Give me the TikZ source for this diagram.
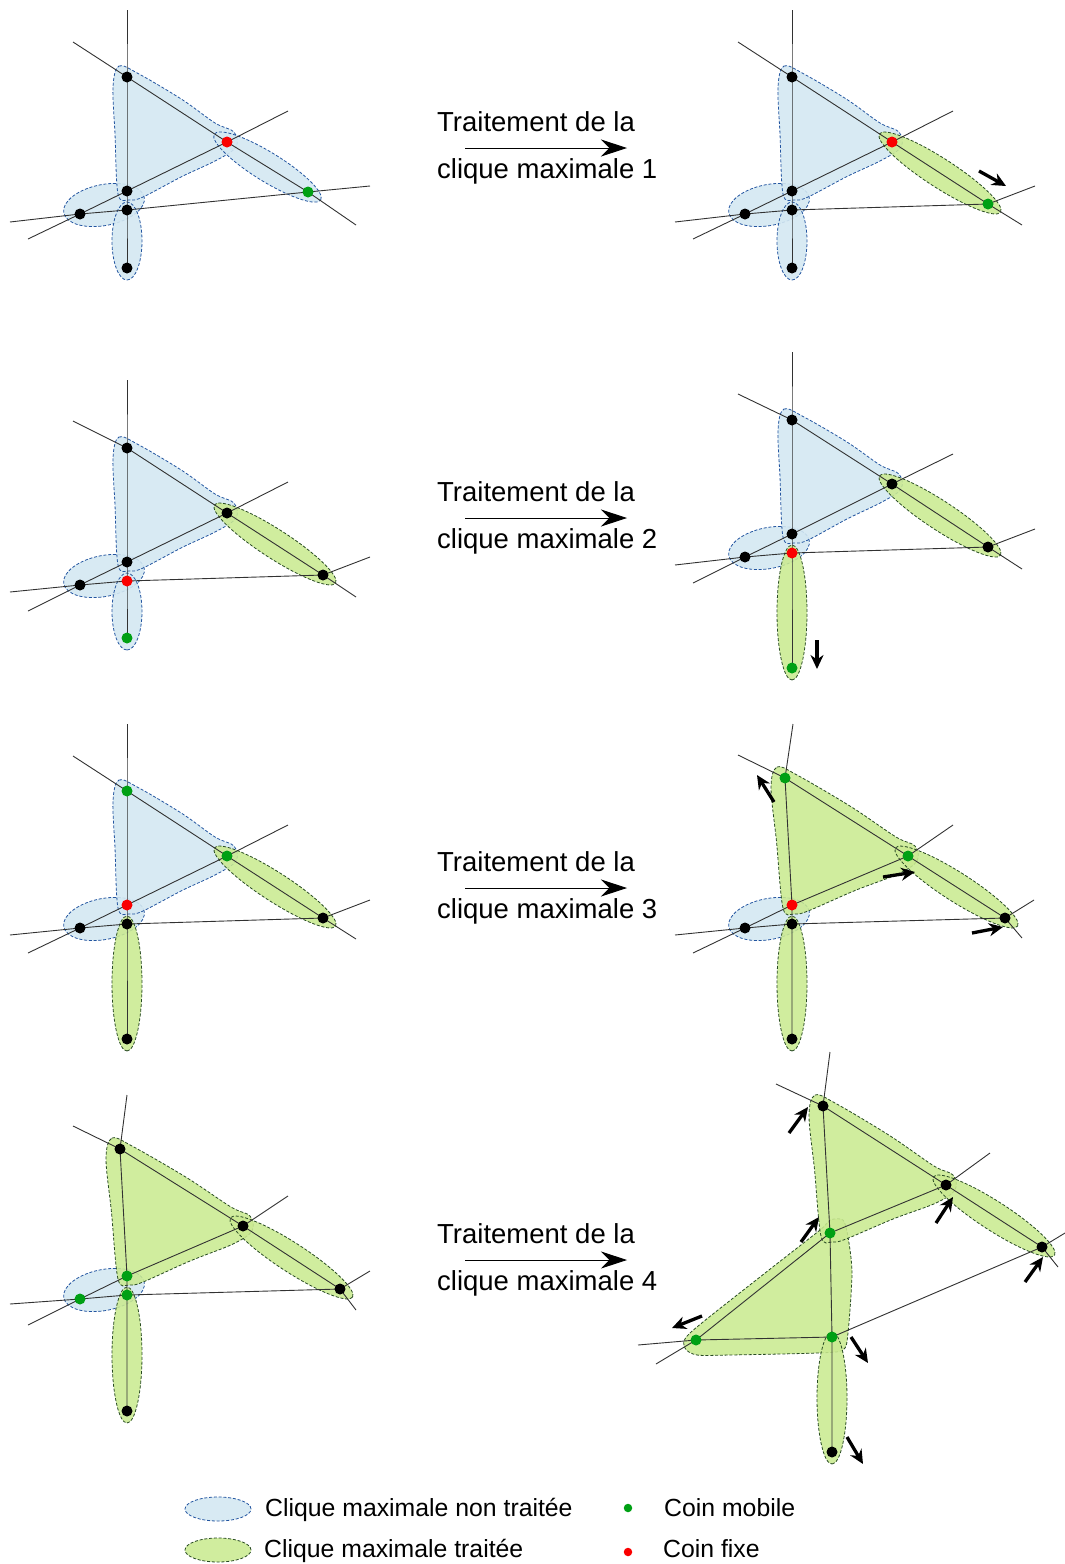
\documentclass[tikz,border=0pt]{standalone}
\usepackage{fontspec}
\setmainfont{Liberation Sans}
\usetikzlibrary{calc,arrows.meta,shapes.geometric}
\definecolor{bluefill}{RGB}{212,232,242}
\definecolor{blueline}{RGB}{35,85,160}
\definecolor{greenfill}{RGB}{202,234,145}
\definecolor{greenline}{RGB}{40,75,35}
\definecolor{cgreen}{RGB}{0,160,20}
\definecolor{cred}{RGB}{250,0,0}
\definecolor{linec}{RGB}{50,50,50}
\tikzset{
  bluecl/.style={draw=blueline,fill=bluefill,fill opacity=.9,line width=.8pt,dash pattern=on 3pt off 1.8pt},
  greencl/.style={draw=greenline,fill=greenfill,fill opacity=.88,line width=.8pt,dash pattern=on 3pt off 1.8pt},
  geom/.style={draw=linec,line width=.9pt},
  dotnode/.style={circle,inner sep=0pt,minimum size=11pt},
  smalldot/.style={circle,inner sep=0pt,minimum size=8.5pt},
  bigarrow/.style={draw=black,line width=.9pt,-{Stealth[length=26pt,width=17pt]}},
  moved/.style={draw=black,line width=3.3pt,-{Stealth[length=14pt,width=13pt]}},
  bigtext/.style={anchor=base west,inner sep=0pt,font=\fontsize{27.5pt}{30pt}\selectfont},
  legtext/.style={anchor=base west,inner sep=0pt,font=\fontsize{24.8pt}{28pt}\selectfont},
}
\newcount\autoid
\newcommand\setpts[7]{%
  \coordinate (A) at (#1);\coordinate (B) at (#2);\coordinate (C) at (#3);
  \coordinate (D) at (#4);\coordinate (E) at (#5);\coordinate (F) at (#6);
  \coordinate (G) at (#7);}
% ellipse around two points: style, p, q, half width, extra length
\newcommand\lens[5]{%
  \global\advance\autoid by 1
  \path let \p1=($(#3)-(#2)$),\n1={atan2(\y1,\x1)},\n2={veclen(\x1,\y1)+#5} in
    node[ellipse,#1,inner sep=0pt,minimum width=\n2,minimum height=#4,rotate=\n1]
    (cl\the\autoid) at ($(#2)!.5!(#3)$) {};}
\newcommand\lensDF[2][4]{%
  \coordinate (Dt) at ($(D)+(0,#1)$);
  \lens{#2}{Dt}{F}{30pt}{24pt}}
\newcommand\lensBG[1]{\lens{#1}{B}{G}{29pt}{30pt}}
% small clique E,C,D
\newcommand\blobECD[1]{%
  \global\advance\autoid by 1
  \node[ellipse,#1,inner sep=0pt,minimum width=82pt,minimum height=41pt,rotate=11]
    (cl\the\autoid) at ($(E)+(24,-9)$) {};}
% big clique A,B,C
\newcommand\triblob[1]{%
  \draw[#1] plot[smooth cycle,tension=.55] coordinates {
    ($(A)+(-14,10)$) ($(A)+(-8,-11)$) ($(A)+(12,-3)$)
    ($(A)!.5!(B)+(5,-10)$)
    ($(B)+(-12,-19)$) ($(B)+(7,-10)$) ($(B)+(9,5)$) ($(B)+(-10,18)$)
    ($(B)!.5!(C)+(5,10)$)
    ($(C)+(16,6)$) ($(C)+(2,9)$) ($(C)+(-9,3)$)
    ($(A)!.5!(C)+(-12,0)$)
  };}
% lines through the vertices
\newcommand\geomlines[7]{%
  \coordinate (t1) at (#1);
  \coordinate (t2) at (#2);\coordinate (t3) at (#3);
  \coordinate (t4) at (#4);\coordinate (t5) at (#5);
  \coordinate (t6) at (#6);\coordinate (t7) at (#7);
  \draw[geom] (t1)--(A)--(C)--(D)--(F);
  \draw[geom] (t2)--(A)--(B)--(G)--(t3);
  \draw[geom] (t4)--(E)--(C)--(B)--(t5);
  \draw[geom] (t6)--(E)--(D)--(G)--(t7);}
\newcommand\putdots[7]{%
  \node[dotnode,fill=#1] (vA) at (A) {};
  \node[dotnode,fill=#2] (vB) at (B) {};
  \node[dotnode,fill=#3] (vC) at (C) {};
  \node[dotnode,fill=#4] (vD) at (D) {};
  \node[dotnode,fill=#5] (vE) at (E) {};
  \node[dotnode,fill=#6] (vF) at (F) {};
  \node[dotnode,fill=#7] (vG) at (G) {};}
\newcommand\moveto[2]{%
  \coordinate (m1) at (#1);\coordinate (m2) at (#2);
  \draw[moved] (m1)--(m2);}
\newcommand\treat[2]{%
  \node[bigtext] (ta#2) at (437,#1+10) {Traitement de la};
  \node[bigtext] (tb#2) at (437,#1+57) {clique maximale #2};
  \coordinate (aa#2) at (465,#1+27);\coordinate (ab#2) at (627,#1+27);
  \draw[bigarrow] (aa#2)--(ab#2);}
\begin{document}
\begin{tikzpicture}[x=1pt,y=-1pt]
\useasboundingbox (0,0) rectangle (1065,1564);
% ===== row 1 left
\setpts{127,77}{227,142}{127,191}{127,210}{80,214}{127,268}{308,192}
\blobECD{bluecl}\lensDF{bluecl}\triblob{bluecl}\lensBG{bluecl}
\geomlines{127,10}{73,42}{356,225}{28,239}{288,111}{10,222}{370,186}
\putdots{black}{cred}{black}{black}{black}{black}{cgreen}
% ===== row 1 right
\setpts{792,77}{892,142}{792,191}{792,210}{745,214}{792,268}{988,204}
\blobECD{bluecl}\lensDF{bluecl}\triblob{bluecl}\lensBG{greencl}
\geomlines{792,10}{738,42}{1022,225}{693,239}{953,111}{675,222}{1035,186}
\putdots{black}{cred}{black}{black}{black}{black}{cgreen}
\moveto{979,171}{1006,186}
% ===== row 2 left
\setpts{127,448}{227,513}{127,562}{127,581}{80,585}{127,638}{323,575}
\blobECD{bluecl}\lensDF{bluecl}\triblob{bluecl}\lensBG{greencl}
\geomlines{127,380}{73,421}{356,597}{28,611}{288,482}{10,592}{370,557}
\putdots{black}{black}{black}{cred}{black}{cgreen}{black}
% ===== row 2 right
\setpts{792,420}{892,484}{792,534}{792,553}{745,557}{792,668}{988,547}
\blobECD{bluecl}\lensDF{greencl}\triblob{bluecl}\lensBG{greencl}
\geomlines{792,352}{738,394}{1022,569}{693,583}{953,454}{675,565}{1035,529}
\putdots{black}{black}{black}{cred}{black}{cgreen}{black}
\moveto{817,640}{817,669}
% ===== row 3 left
\setpts{127,791}{227,856}{127,905}{127,924}{80,928}{127,1039}{323,918}
\blobECD{bluecl}\lensDF{greencl}\triblob{bluecl}\lensBG{greencl}
\geomlines{127,724}{73,756}{356,939}{28,953}{288,825}{10,935}{370,900}
\putdots{cgreen}{cgreen}{cred}{black}{black}{black}{black}
% ===== row 3 right
\setpts{785,778}{908,856}{792,905}{792,924}{745,928}{792,1039}{1005,918}
\blobECD{bluecl}\lensDF{greencl}\triblob{greencl}\lensBG{greencl}
\geomlines{793,724}{738,755}{1022,938}{693,953}{953,825}{675,935}{1034,900}
\putdots{cgreen}{cgreen}{cred}{black}{black}{black}{black}
\moveto{774,802}{757,775}
\moveto{883,877}{915,872}
\moveto{972,933}{1003,927}
% ===== row 4 left
\setpts{120,1149}{243,1226}{127,1276}{127,1295}{80,1299}{127,1411}{340,1289}
\blobECD{bluecl}\lensDF{greencl}\triblob{greencl}\lensBG{greencl}
\geomlines{127,1095}{73,1126}{356,1310}{28,1325}{288,1196}{10,1304}{370,1271}
\putdots{black}{black}{cgreen}{cgreen}{cgreen}{black}{black}
% ===== row 4 right
\setpts{823,1106}{946,1185}{830,1233}{832,1337}{696,1340}{832,1452}{1042,1247}
\draw[greencl] plot[smooth cycle,tension=.45] coordinates {
  (685,1348) (690,1333) (760,1277) (820,1230) (830,1220) (843,1220) (848,1237)
  (852,1273) (848,1333) (843,1350) (817,1353) (730,1355) (697,1355)};
\lensDF[7]{greencl}\triblob{greencl}\lensBG{greencl}
\geomlines{830,1052}{776,1084}{1058,1267}{656,1364}{990,1153}{638,1345}{1065,1233}
\putdots{black}{black}{cgreen}{cgreen}{cgreen}{black}{black}
\moveto{789,1133}{808,1107}
\moveto{801,1242}{819,1217}
\moveto{936,1223}{953,1197}
\moveto{1025,1282}{1043,1257}
\moveto{702,1316}{672,1328}
\moveto{851,1337}{868,1363}
\moveto{847,1437}{863,1464}
% ===== centre captions
\treat{121}{1}
\treat{491}{2}
\treat{861}{3}
\treat{1233}{4}
% ===== legend
\node[ellipse,bluecl,inner sep=0pt,minimum width=66pt,minimum height=24pt] (lgb) at (218,1509) {};
\node[ellipse,greencl,inner sep=0pt,minimum width=66pt,minimum height=24pt] (lgg) at (218,1550) {};
\node[legtext] (ltb) at (265,1516) {Clique maximale non traitée};
\node[legtext] (ltg) at (264,1557) {Clique maximale traitée};
\node[smalldot,fill=cgreen] (ldg) at (628,1508) {};
\node[smalldot,fill=cred] (ldr) at (628,1552) {};
\node[legtext] (ltm) at (664,1516) {Coin mobile};
\node[legtext] (ltf) at (663,1557) {Coin fixe};
\end{tikzpicture}
\end{document}
